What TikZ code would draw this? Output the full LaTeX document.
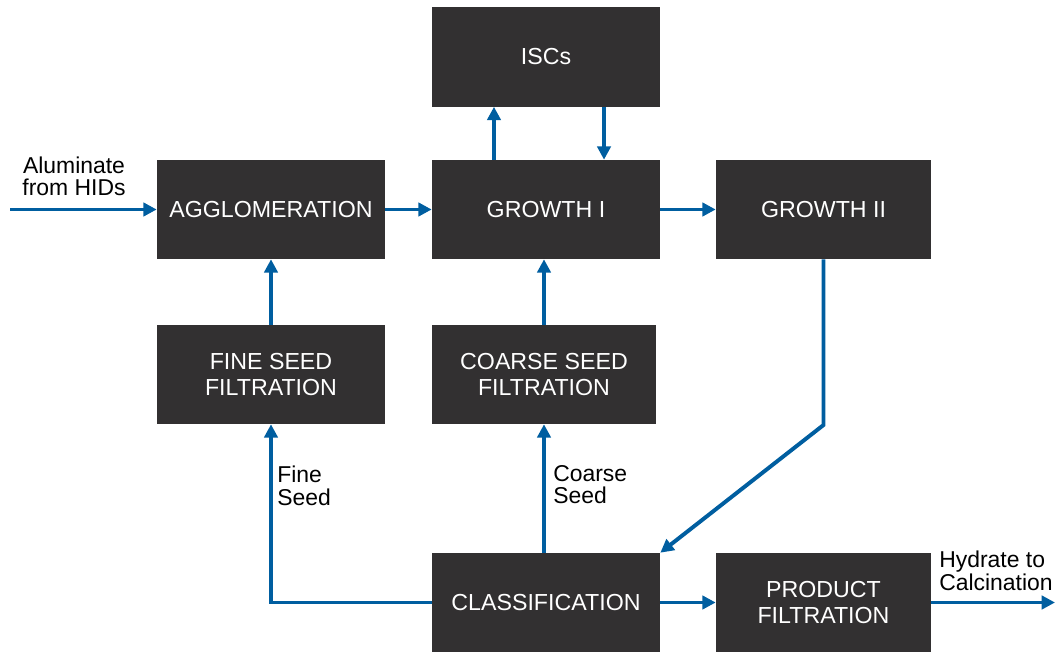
\documentclass[tikz,border=0pt]{standalone}
\usepackage{fontspec}
\setmainfont{Liberation Sans}
\usetikzlibrary{arrows.meta}
\definecolor{boxgray}{RGB}{50,48,49}
\definecolor{flowblue}{RGB}{0,94,160}

\begin{document}
\begin{tikzpicture}[x=0.025cm,y=-0.025cm]
\tikzstyle{every node}+=[inner sep=0pt]
\tikzstyle{unit}=[fill=boxgray, text=white, minimum width=5.7cm, minimum height=2.475cm, align=center, font=\fontsize{16.5}{18.5}\selectfont]
\tikzstyle{flow}=[draw=flowblue, line width=2.8pt, -{Triangle[length=9.5pt,width=9.5pt]}]
\tikzstyle{tag}=[align=left, font=\fontsize{16.3}{15.8}\selectfont]
\useasboundingbox (0,0) rectangle (1058,656);
\node [unit] (isc) at (546,57) {ISCs};
\node [unit] (agg) at (271,209.5) {AGGLOMERATION};
\node [unit] (g1) at (546,209.5) {GROWTH I};
\node [unit, minimum width=5.375cm] (g2) at (823.5,209.5) {GROWTH II};
\node [unit] (fine) at (271,374.5) {FINE SEED\\FILTRATION};
\node [unit, minimum width=5.6cm] (coarse) at (544,374.5) {COARSE SEED\\FILTRATION};
\node [unit] (class) at (546,602.5) {CLASSIFICATION};
\node [unit, minimum width=5.375cm] (prod) at (823.5,602.5) {PRODUCT\\FILTRATION};
\coordinate (feed) at (10,209.5);
\coordinate (out) at (1055,602.5);
\coordinate (bend) at (823.5,425);
\draw [flow] (feed) -- (agg);
\draw [flow] (agg) -- (g1);
\draw [flow] (g1) -- (g2);
\draw [flow] ([xshift=-1.3cm]g1.north) -- ([xshift=-1.3cm]isc.south);
\draw [flow] ([xshift=1.45cm]isc.south) -- ([xshift=1.45cm]g1.north);
\draw [flow] (fine) -- (agg);
\draw [flow] (coarse.north) -- (coarse.north |- g1.south);
\draw [flow] (class.north -| coarse) -- (coarse.south);
\draw [flow] (class.west) -| (fine.south);
\draw [flow] (g2.south) -- (bend) -- (class.north east);
\draw [flow] (class) -- (prod);
\draw [flow] (prod) -- (out);
\node [tag, align=center] (feedtag) at (74,176) {Aluminate\\from HIDs};
\node [tag, anchor=north west] (finetag) at (277,466) {Fine\\Seed};
\node [tag, anchor=north west] (coarsetag) at (553,465) {Coarse\\Seed};
\node [tag, anchor=north west] (outtag) at (939,551) {Hydrate to\\Calcination};
\end{tikzpicture}
\end{document}
